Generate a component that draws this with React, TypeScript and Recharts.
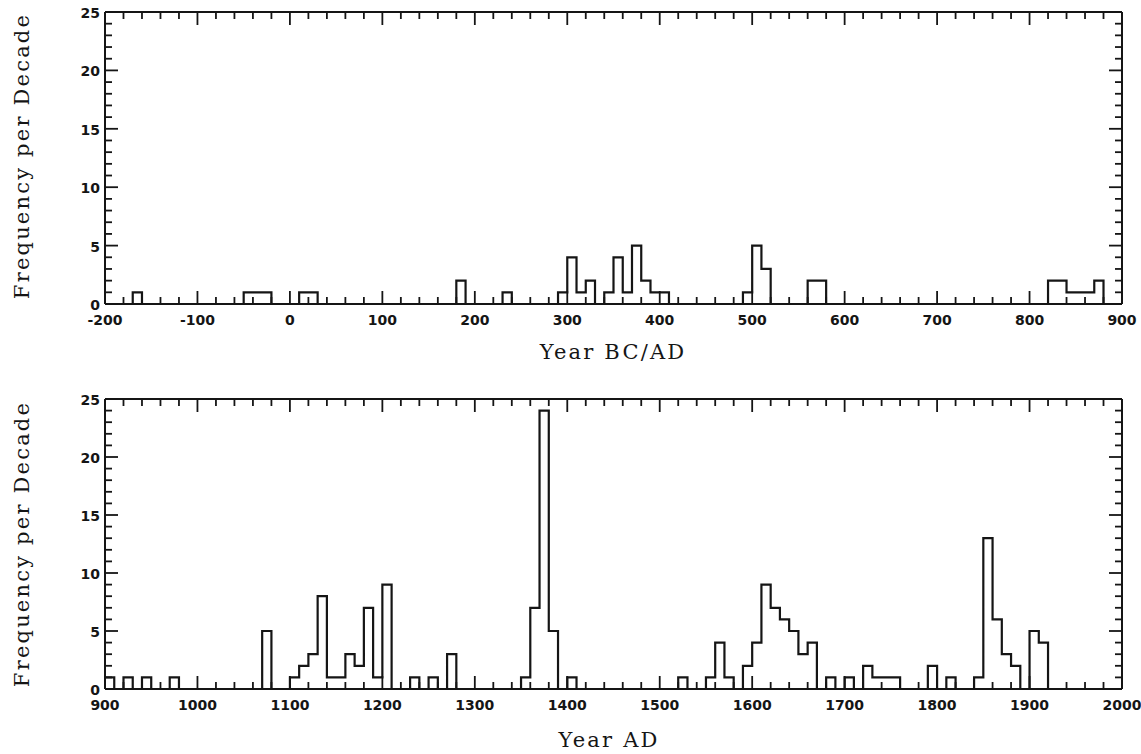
import { LineChart, Line, XAxis, YAxis } from "recharts";

// bin start year -> count (each bin is one decade); the step line holds its value until the next year
const topYears = [-200, -170, -160, -50, -20, 10, 30, 180, 190, 230, 240, 290, 300, 310, 320, 330, 340, 350, 360, 370, 380, 390, 400, 410, 490, 500, 510, 520, 560, 580, 820, 840, 870, 880, 900];
const topCounts = [0, 1, 0, 1, 0, 1, 0, 2, 0, 1, 0, 1, 4, 1, 2, 0, 1, 4, 1, 5, 2, 1, 1, 0, 1, 5, 3, 0, 2, 0, 2, 1, 2, 0, 0];

const bottomYears = [900, 910, 920, 930, 940, 950, 970, 980, 1070, 1080, 1100, 1110, 1120, 1130, 1140, 1160, 1170, 1180, 1190, 1200, 1210, 1230, 1240, 1250, 1260, 1270, 1280, 1350, 1360, 1370, 1380, 1390, 1400, 1410, 1520, 1530, 1550, 1560, 1570, 1580, 1590, 1600, 1610, 1620, 1630, 1640, 1650, 1660, 1670, 1680, 1690, 1700, 1710, 1720, 1730, 1760, 1790, 1800, 1810, 1820, 1840, 1850, 1860, 1870, 1880, 1890, 1900, 1910, 1920, 2000];
const bottomCounts = [1, 0, 1, 0, 1, 0, 1, 0, 5, 0, 1, 2, 3, 8, 1, 3, 2, 7, 1, 9, 0, 1, 0, 1, 0, 3, 0, 1, 7, 24, 5, 0, 1, 0, 1, 0, 1, 4, 1, 0, 2, 4, 9, 7, 6, 5, 3, 4, 0, 1, 0, 1, 0, 2, 1, 0, 2, 0, 1, 0, 1, 13, 6, 3, 2, 0, 5, 4, 0, 0];

const INK = "#151515";
const numFont = "'DejaVu Sans', sans-serif";
const titleFont = "'DejaVu Serif', serif";

function steps(from: number, to: number, by: number) {
  const out: number[] = [];
  for (let v = from; v <= to; v += by) out.push(v);
  return out;
}

function makeTick(side: "bottom" | "top" | "left" | "right", majorEvery: number, labels: boolean) {
  return (props: any) => {
    const { x, y, payload } = props;
    const v = payload.value as number;
    const major = v % majorEvery === 0;
    const len = major ? 13 : 7;
    let line;
    if (side === "bottom") line = <line x1={x} x2={x} y1={y} y2={y - len} stroke={INK} strokeWidth={1.8} />;
    else if (side === "top") line = <line x1={x} x2={x} y1={y} y2={y + len} stroke={INK} strokeWidth={1.8} />;
    else if (side === "left") line = <line x1={x} x2={x + len} y1={y} y2={y} stroke={INK} strokeWidth={1.8} />;
    else line = <line x1={x} x2={x - len} y1={y} y2={y} stroke={INK} strokeWidth={1.8} />;
    let label = null;
    if (labels && major) {
      if (side === "bottom")
        label = (
          <text x={x} y={y + 16} textAnchor="middle" dominantBaseline="central" fontFamily={numFont} fontWeight="bold" fontSize={14} fill={INK}>
            {v}
          </text>
        );
      else if (side === "left")
        label = (
          <text x={x - 5} y={y + 1} textAnchor="end" dominantBaseline="central" fontFamily={numFont} fontWeight="bold" fontSize={14} fill={INK}>
            {v}
          </text>
        );
    }
    return (
      <g>
        {line}
        {label}
      </g>
    );
  };
}

function Panel({ years, counts, x0, x1, top, height, plotTop, plotBottom }: any) {
  const data = years.map((year: number, i: number) => ({ year, count: counts[i] }));
  const xTicks = steps(x0, x1, 20);
  const yTicks = steps(0, 25, 1);
  const axisLine = { stroke: INK, strokeWidth: 2 };
  return (
    <div style={{ position: "absolute", left: 0, top }}>
      <LineChart
        width={1141}
        height={height}
        data={data}
        margin={{ top: plotTop - 10, right: 9, bottom: height - plotBottom - 30, left: 65 }}
      >
        <XAxis xAxisId="b" dataKey="year" type="number" domain={[x0, x1]} ticks={xTicks} interval={0} allowDataOverflow
          orientation="bottom" height={30} tickSize={0} tickMargin={0} axisLine={axisLine} tick={makeTick("bottom", 100, true)} />
        <XAxis xAxisId="t" dataKey="year" type="number" domain={[x0, x1]} ticks={xTicks} interval={0} allowDataOverflow
          orientation="top" height={10} tickSize={0} tickMargin={0} axisLine={axisLine} tick={makeTick("top", 100, false)} />
        <YAxis yAxisId="l" type="number" domain={[0, 25]} ticks={yTicks} interval={0} allowDataOverflow
          orientation="left" width={40} tickSize={0} tickMargin={0} axisLine={axisLine} tick={makeTick("left", 5, true)} />
        <YAxis yAxisId="r" type="number" domain={[0, 25]} ticks={yTicks} interval={0} allowDataOverflow
          orientation="right" width={10} tickSize={0} tickMargin={0} axisLine={axisLine} tick={makeTick("right", 5, false)} />
        <Line xAxisId="b" yAxisId="l" type="stepAfter" dataKey="count" stroke={INK} strokeWidth={2.2} dot={false} isAnimationActive={false} />
      </LineChart>
    </div>
  );
}

const titleStyle: any = {
  position: "absolute",
  fontFamily: titleFont,
  fontSize: 21,
  letterSpacing: 2.2,
  color: INK,
  whiteSpace: "nowrap",
  transform: "translate(-50%, -50%)",
};

export default function App() {
  return (
    <div style={{ position: "absolute", left: 0, top: 0, width: 1141, height: 754, background: "#fff", overflow: "hidden" }}>
      <Panel years={topYears} counts={topCounts} x0={-200} x1={900} top={0} height={380} plotTop={12} plotBottom={304} />
      <Panel years={bottomYears} counts={bottomCounts} x0={900} x1={2000} top={380} height={374} plotTop={19} plotBottom={309} />
      <div style={{ ...titleStyle, left: 613, top: 352 }}>Year BC/AD</div>
      <div style={{ ...titleStyle, left: 609, top: 740 }}>Year AD</div>
      <div style={{ ...titleStyle, left: 22, top: 156, transform: "translate(-50%, -50%) rotate(-90deg)" }}>Frequency per Decade</div>
      <div style={{ ...titleStyle, left: 22, top: 544, transform: "translate(-50%, -50%) rotate(-90deg)" }}>Frequency per Decade</div>
    </div>
  );
}
